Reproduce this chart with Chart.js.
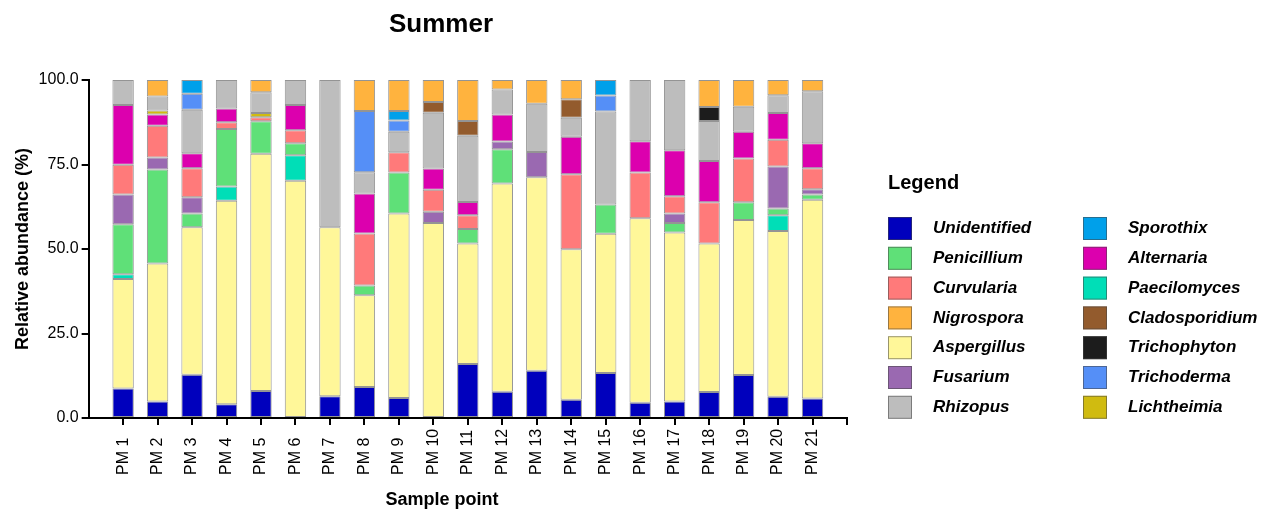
<!DOCTYPE html>
<html>
<head>
<meta charset="utf-8">
<script src="https://cdn.jsdelivr.net/npm/chart.js@4/dist/chart.umd.min.js"></script>
<style>
  html, body { margin: 0; padding: 0; background: #fff; }
  #chart { display: block; }
</style>
</head>
<body>
<canvas id="chart" width="1270" height="512"></canvas>
<script>
// sample points on the x axis
const samples = ["PM 1", "PM 2", "PM 3", "PM 4", "PM 5", "PM 6", "PM 7", "PM 8", "PM 9", "PM 10",
  "PM 11", "PM 12", "PM 13", "PM 14", "PM 15", "PM 16", "PM 17", "PM 18", "PM 19", "PM 20", "PM 21"];
const yTickLabels = ["0.0", "25.0", "50.0", "75.0", "100.0"];

// relative abundance (%) per genus, one value per sample point
const unidentified   = [8.7, 4.9, 12.8, 4.1, 8.0, 0, 6.4, 9.2, 5.9, 0, 16.0, 7.8, 14.0, 5.4, 13.3, 4.5, 4.9, 7.7, 12.7, 6.3, 5.8];
const aspergillus    = [32.4, 40.8, 43.6, 60.2, 70.2, 70.2, 50.0, 27.1, 54.6, 57.7, 35.6, 61.6, 57.2, 44.5, 41.2, 54.6, 50.0, 43.9, 45.9, 49.0, 58.8];
const paecilomyces   = [1.4, 0, 0, 4.2, 0, 7.5, 0, 0, 0, 0, 0, 0, 0, 0, 0, 0, 0, 0, 0, 4.7, 0];
const penicillium    = [14.8, 27.8, 4.1, 17.0, 9.6, 3.6, 0, 2.9, 12.1, 0, 4.3, 10.1, 0, 0, 8.7, 0, 2.8, 0, 5.2, 2.0, 1.5];
const fusarium       = [8.8, 3.6, 4.8, 0, 0, 0, 0, 0, 0, 3.3, 0, 2.3, 7.5, 0, 0, 0, 2.8, 0, 0, 12.4, 1.6];
const curvularia     = [8.8, 9.4, 8.6, 2.0, 1.2, 3.8, 0, 15.4, 6.0, 6.5, 4.1, 0, 0, 22.2, 0, 13.5, 5.1, 12.2, 13.0, 7.9, 6.2];
const alternaria     = [17.7, 3.3, 4.4, 4.1, 0, 7.5, 0, 11.8, 0, 6.3, 3.9, 8.0, 0, 11.1, 0, 9.3, 13.6, 12.2, 7.9, 7.9, 7.4];
const lichtheimia    = [0, 1.2, 0, 0, 1.2, 0, 0, 0, 0, 0, 0, 0, 0, 0, 0, 0, 0, 0, 0, 0, 0];
const rhizopus       = [7.4, 4.1, 12.9, 8.4, 6.2, 7.4, 43.6, 6.3, 6.1, 16.5, 19.6, 7.4, 14.3, 5.6, 27.5, 18.1, 20.8, 11.9, 7.4, 5.3, 15.4];
const trichophyton   = [0, 0, 0, 0, 0, 0, 0, 0, 0, 0, 0, 0, 0, 0, 0, 0, 0, 4.1, 0, 0, 0];
const cladosporidium = [0, 0, 0, 0, 0, 0, 0, 0, 0, 3.2, 4.4, 0, 0, 5.5, 0, 0, 0, 0, 0, 0, 0];
const trichoderma    = [0, 0, 4.7, 0, 0, 0, 0, 18.1, 3.3, 0, 0, 0, 0, 0, 4.7, 0, 0, 0, 0, 0, 0];
const sporothix      = [0, 0, 4.1, 0, 0, 0, 0, 0, 2.8, 0, 0, 0, 0, 0, 4.6, 0, 0, 0, 0, 0, 0];
const nigrospora     = [0, 4.9, 0, 0, 3.6, 0, 0, 9.2, 9.2, 6.5, 12.1, 2.8, 7.0, 5.7, 0, 0, 0, 8.0, 7.9, 4.5, 3.3];

// stacking order, bottom to top
const series = [
  ["Unidentified", unidentified],
  ["Aspergillus", aspergillus],
  ["Paecilomyces", paecilomyces],
  ["Penicillium", penicillium],
  ["Fusarium", fusarium],
  ["Curvularia", curvularia],
  ["Alternaria", alternaria],
  ["Lichtheimia", lichtheimia],
  ["Rhizopus", rhizopus],
  ["Trichophyton", trichophyton],
  ["Cladosporidium", cladosporidium],
  ["Trichoderma", trichoderma],
  ["Sporothix", sporothix],
  ["Nigrospora", nigrospora]
];

// legend order (two columns, top to bottom)
const legendOrder = ["Unidentified", "Penicillium", "Curvularia", "Nigrospora", "Aspergillus", "Fusarium", "Rhizopus",
  "Sporothix", "Alternaria", "Paecilomyces", "Cladosporidium", "Trichophyton", "Trichoderma", "Lichtheimia"];

const colors = {
  Unidentified: "#0000bd",
  Penicillium: "#5fe078",
  Curvularia: "#ff7a7a",
  Nigrospora: "#ffb33e",
  Aspergillus: "#fff799",
  Fusarium: "#9a69b1",
  Rhizopus: "#bdbdbd",
  Sporothix: "#00a0ea",
  Alternaria: "#dc00ae",
  Paecilomyces: "#00deb7",
  Cladosporidium: "#935b2d",
  Trichophyton: "#1c1c1c",
  Trichoderma: "#558ff7",
  Lichtheimia: "#d0bb10"
};

const FONT = '"Liberation Sans", Arial, Helvetica, sans-serif';
Chart.defaults.font.family = FONT;
Chart.defaults.color = "#000";

// titles, rotated sample labels and the legend
const decor = {
  id: "decor",
  afterDraw(chart) {
    const ctx = chart.ctx;
    const xs = chart.scales.x;
    ctx.save();
    ctx.fillStyle = "#000";
    ctx.textBaseline = "middle";

    ctx.textAlign = "center";
    ctx.font = "bold 26px " + FONT;
    ctx.fillText("Summer", 441, 25);
    ctx.font = "bold 18px " + FONT;
    ctx.fillText("Sample point", 442, 500);

    ctx.font = "16px " + FONT;
    ctx.textAlign = "left";
    samples.forEach((s, i) => {
      ctx.save();
      ctx.translate(xs.getPixelForValue(i + 1), 475);
      ctx.rotate(-Math.PI / 2);
      ctx.fillText(s, 0, 0);
      ctx.restore();
    });

    ctx.font = "bold 20px " + FONT;
    ctx.fillText("Legend", 888, 183);
    legendOrder.forEach((name, i) => {
      const col = Math.floor(i / 7);
      const row = i % 7;
      const bx = 888 + col * 195;
      const cy = 228.5 + row * 29.8;
      ctx.fillStyle = colors[name];
      ctx.fillRect(bx, cy - 11.5, 24, 23);
      ctx.strokeStyle = "rgba(70,70,70,0.55)";
      ctx.lineWidth = 1;
      ctx.strokeRect(bx + 0.5, cy - 11, 23, 22);
      ctx.fillStyle = "#000";
      ctx.font = "bold italic 17px " + FONT;
      ctx.fillText(name, bx + 45, cy);
    });
    ctx.restore();
  }
};

new Chart(document.getElementById("chart"), {
  type: "bar",
  data: {
    datasets: series.map(([name, vals]) => ({
      label: name,
      data: vals.map((v, i) => ({ x: i + 1, y: v })),
      backgroundColor: colors[name],
      borderColor: "rgba(60,60,60,0.55)",
      borderWidth: 1,
      borderSkipped: false,
      categoryPercentage: 1,
      barPercentage: 0.62
    }))
  },
  options: {
    responsive: false,
    animation: false,
    layout: { padding: { left: 6, right: 423, top: 80, bottom: 87 } },
    plugins: {
      legend: { display: false },
      tooltip: { enabled: false },
      title: { display: false }
    },
    scales: {
      x: {
        type: "linear",
        stacked: true,
        offset: false,
        min: 0,
        max: samples.length + 1,
        ticks: { display: false, stepSize: 1, autoSkip: false, maxTicksLimit: 40 },
        grid: {
          offset: false,
          drawOnChartArea: false,
          tickLength: 7,
          lineWidth: 2,
          color: (c) => (c.tick && c.tick.value === 0 ? "rgba(0,0,0,0)" : "#000")
        },
        border: { color: "#000", width: 2 }
      },
      y: {
        stacked: true,
        min: 0,
        max: 100,
        ticks: {
          stepSize: 25,
          padding: 3,
          font: { size: 16 },
          color: "#000",
          callback: (v, i) => yTickLabels[i]
        },
        grid: { drawOnChartArea: false, tickLength: 7, lineWidth: 2, color: "#000" },
        border: { color: "#000", width: 2 },
        title: {
          display: true,
          text: "Relative abundance (%)",
          font: { size: 18, weight: "bold" },
          color: "#000",
          padding: { top: 6, bottom: 2 }
        }
      }
    }
  },
  plugins: [decor]
});
</script>
</body>
</html>
